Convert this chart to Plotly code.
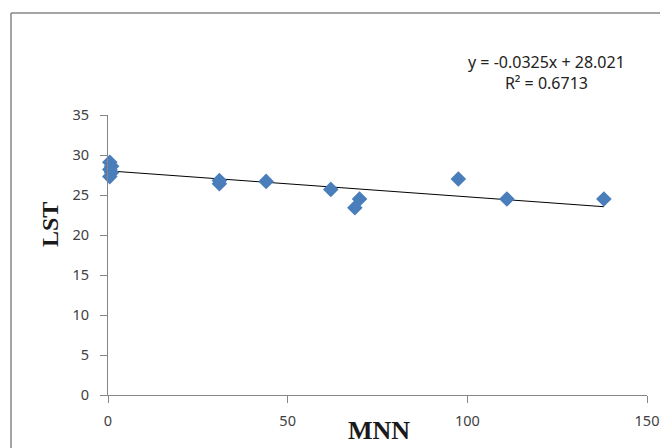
import plotly.graph_objects as go

# Data
mnn = [0.5, 1.0, 0.5, 1.0, 0.5, 31.0, 31.0, 44.0, 62.0, 70.0, 68.7, 97.5, 111.0, 138.0]
lst = [29.1, 28.6, 28.2, 27.8, 27.3, 26.8, 26.4, 26.7, 25.7, 24.5, 23.4, 27.0, 24.5, 24.5]

# Trendline coefficients as printed on the chart
slope = -0.0325
intercept = 28.021
r2 = 0.6713

x_ticks = [0, 50, 100, 150]
y_ticks = [0, 5, 10, 15, 20, 25, 30, 35]

OFF = 8  # page body margin offset
W, H = 668, 448
# target plot area in screen pixels: x 108..647, y 115..395
L = 108 - OFF
T = 115 - OFF
R = W - (647 - OFF)
B = H - (395 - OFF)

fig = go.Figure()

xmin, xmax = min(mnn), max(mnn)
fig.add_trace(go.Scatter(
    x=[xmin, xmax], y=[slope * xmin + intercept, slope * xmax + intercept],
    mode="lines", line=dict(color="black", width=1), hoverinfo="skip", showlegend=False))

fig.add_trace(go.Scatter(
    x=mnn, y=lst, mode="markers",
    marker=dict(symbol="diamond", size=12, color="#4A7EBB", line=dict(width=0)),
    showlegend=False, cliponaxis=False))

axis_common = dict(showgrid=False, zeroline=False, showline=True, linecolor="#868686", linewidth=1,
                   ticks="outside", ticklen=7, tickcolor="#868686",
                   tickfont=dict(family="Noto Sans", size=14.5, color="#404040"))

fig.update_xaxes(range=[0, 150], tickvals=x_ticks, ticklabelstandoff=6, **axis_common)
fig.update_yaxes(range=[0, 35], tickvals=y_ticks, ticklabelstandoff=8, **axis_common)

pw = W - L - R
ph = H - T - B

def px_x(p):  # screen px -> paper
    return (p - OFF - L) / pw

def px_y(p):
    return (H - B - (p - OFF)) / ph

# Chart border (top and left visible)
fig.add_shape(type="line", xref="paper", yref="paper", x0=px_x(11), x1=px_x(700), y0=px_y(13), y1=px_y(13),
              line=dict(color="#868686", width=1.5))
fig.add_shape(type="line", xref="paper", yref="paper", x0=px_x(11), x1=px_x(11), y0=px_y(13), y1=px_y(470),
              line=dict(color="#868686", width=1.5))

fig.add_annotation(xref="paper", yref="paper", x=px_x(546), y=px_y(72), xanchor="center", yanchor="middle",
                   text=f"y = {slope}x + {intercept}<br>R² = {r2}", showarrow=False,
                   font=dict(family="Noto Sans", size=16, color="#222222"), align="center")

fig.add_annotation(xref="paper", yref="paper", x=px_x(379), y=px_y(430), xanchor="center", yanchor="middle",
                   text="<b>MNN</b>",
                   showarrow=False, font=dict(family="Liberation Serif", size=26, color="#1a1a1a"))
fig.add_annotation(xref="paper", yref="paper", x=px_x(50), y=px_y(225), xanchor="center", yanchor="middle",
                   text="<b>LST</b>", textangle=-90,
                   showarrow=False, font=dict(family="Liberation Serif", size=24, color="#1a1a1a"))

fig.update_layout(width=W, height=H, margin=dict(l=L, r=R, t=T, b=B),
                  paper_bgcolor="white", plot_bgcolor="white")

fig.write_html("out.html")
